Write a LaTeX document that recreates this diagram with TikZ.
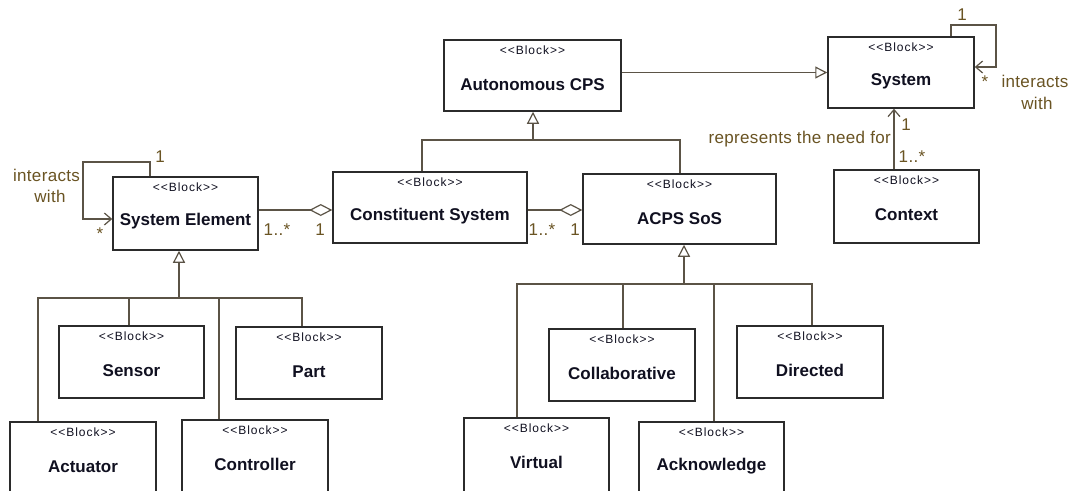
\documentclass[tikz,border=0pt]{standalone}
\usepackage{fontspec}
\setmainfont{Liberation Sans}
\newfontfamily\stereofont[LetterSpace=8]{Liberation Sans}
\newfontfamily\labelfont[LetterSpace=2]{Liberation Sans}
\usetikzlibrary{arrows.meta}
\definecolor{boxline}{HTML}{2B2B2B}
\definecolor{conn}{HTML}{5B5346}
\definecolor{mult}{HTML}{6A5423}
\definecolor{ink}{HTML}{101020}

\tikzset{
  blockshape/.style={draw=boxline, line width=1.5pt, fill=white, rectangle, inner sep=0pt},
  stereo/.style={font=\stereofont\fontsize{12}{13}\selectfont, text=ink, inner sep=0pt},
  bname/.style={font=\fontsize{17}{19}\selectfont\bfseries, text=ink, inner sep=0pt},
  lbl/.style={font=\labelfont\fontsize{17}{19}\selectfont, text=mult, inner sep=0pt},
  wire/.style={draw=conn, line width=1.3pt},
  gen/.style={wire, -{Triangle[open, length=12pt, width=12pt, line width=1.2pt, fill=white]}},
  nav/.style={wire, -{Straight Barb[length=7pt, width=12pt, line width=1.2pt]}},
  agg/.style={wire, -{Diamond[open, length=23pt, width=12pt, line width=1.2pt, fill=white]}},
}

% a <<Block>> box given by its corners
\newcommand\blockbox[6]{%
  \node[blockshape, minimum width={#4-#2}, minimum height={#5-#3}] (#1) at ({(#2+#4)/2},{(#3+#5)/2}) {};
  \node[stereo] at ([yshift=-10.5]#1.north) {<{}<Block>{}>};
  \node[bname] at ([yshift=-45]#1.north) {#6};
}

\begin{document}
\begin{tikzpicture}[x=1pt, y=-1pt]
\useasboundingbox (0,0) rectangle (1070,490);
\fill[white] (0,0) rectangle (1070,490);
\clip (0,0) rectangle (1070,490);

% blocks
\blockbox{acps}{444}{40}{621}{111}{Autonomous CPS}
\blockbox{sys}{828}{37}{974}{108}{System}
\blockbox{se}{113}{177}{258}{250}{System Element}
\blockbox{cs}{333}{172}{527}{243}{Constituent System}
\blockbox{sos}{583}{174}{776}{244}{ACPS SoS}
\blockbox{ctx}{834}{170}{979}{243}{Context}
\blockbox{sensor}{59}{326}{204}{398}{Sensor}
\blockbox{part}{236}{327}{382}{399}{Part}
\blockbox{act}{10}{422}{156}{500}{Actuator}
\blockbox{ctrl}{182}{420}{328}{500}{Controller}
\blockbox{collab}{549}{329}{695}{401}{Collaborative}
\blockbox{dir}{737}{326}{883}{398}{Directed}
\blockbox{virt}{464}{418}{609}{500}{Virtual}
\blockbox{ack}{639}{422}{784}{500}{Acknowledge}

% Autonomous CPS specialises System
\draw[gen] (acps.east |- sys.west) -- (sys.west);

% System interacts with itself
\coordinate (sysA) at (951,25);
\coordinate (sysB) at (996,67);
\draw[nav] (sys.north -| sysA) -- (sysA) -| (sysB) -- (sys.east |- sysB);
\node[lbl] at (962,15) {1};
\node[lbl] at (985,82) {*};
\node[lbl] at (1035,81) {interacts};
\node[lbl] at (1037,103) {with};

% Context represents the need for System
\coordinate (ctxX) at (894,0);
\draw[nav] (ctx.north -| ctxX) -- (sys.south -| ctxX);
\node[lbl] at (906,125) {1};
\node[lbl] at (912,157) {1..*};
\node[lbl, anchor=east] at (891,139) {represents the need for};

% Constituent System and ACPS SoS specialise Autonomous CPS
\coordinate (g1) at (533,140);
\coordinate (csX) at (422,0);
\coordinate (sosX) at (680,0);
\draw[wire] (cs.north -| csX) |- (g1) -| (sos.north -| sosX);
\draw[gen] (g1) -- (acps.south -| g1);

% System Element interacts with itself
\coordinate (seA) at (150,162);
\coordinate (seB) at (83,219);
\draw[nav] (se.north -| seA) -- (seA) -| (seB) -- (se.west |- seB);
\node[lbl] at (160,157) {1};
\node[lbl] at (100,234) {*};
\node[lbl] at (46.5,175) {interacts};
\node[lbl] at (50,196) {with};

% aggregations
\coordinate (agY) at (0,210);
\draw[agg] (se.east |- agY) -- (cs.west |- agY);
\node[lbl] at (277,230) {1..*};
\node[lbl] at (320,230) {1};
\draw[agg] (cs.east |- agY) -- (sos.west |- agY);
\node[lbl] at (542,230) {1..*};
\node[lbl] at (575,230) {1};

% kinds of System Element
\coordinate (t1) at (179,298);
\draw[gen] (t1) -- (se.south -| t1);
\coordinate (t1a) at (38,298);
\coordinate (t1b) at (129,298);
\coordinate (t1c) at (219,298);
\coordinate (t1d) at (302,298);
\draw[wire] (act.north -| t1a) -- (t1a) -- (t1d) -- (part.north -| t1d);
\draw[wire] (t1b) -- (sensor.north -| t1b);
\draw[wire] (t1c) -- (ctrl.north -| t1c);

% kinds of ACPS SoS
\coordinate (t2) at (684,284);
\draw[gen] (t2) -- (sos.south -| t2);
\coordinate (t2a) at (517,284);
\coordinate (t2b) at (623,284);
\coordinate (t2c) at (714,284);
\coordinate (t2d) at (812,284);
\draw[wire] (virt.north -| t2a) -- (t2a) -- (t2d) -- (dir.north -| t2d);
\draw[wire] (t2b) -- (collab.north -| t2b);
\draw[wire] (t2c) -- (ack.north -| t2c);
\end{tikzpicture}
\end{document}
